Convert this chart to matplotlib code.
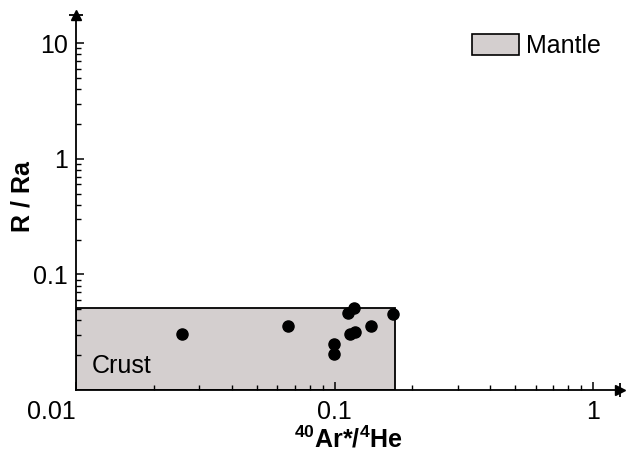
import numpy as np
import matplotlib.pyplot as plt
from matplotlib.patches import Rectangle, Patch

plt.rcParams['font.family'] = ['Liberation Sans', 'DejaVu Sans']
plt.rcParams['mathtext.fontset'] = 'custom'
plt.rcParams['mathtext.rm'] = 'Liberation Sans'
plt.rcParams['mathtext.bf'] = 'Liberation Sans:bold'

# sample data
ar_he = [0.0258, 0.0661, 0.0991, 0.0991, 0.1126, 0.1188, 0.1143, 0.1199, 0.1388, 0.1683]
r_ra = [0.0307, 0.0355, 0.0248, 0.0206, 0.0466, 0.0514, 0.0303, 0.0318, 0.0357, 0.0457]

# crust field box
crust_x = [0.01, 0.171]
crust_y = [0.01, 0.0514]

box_color = '#d4cfcf'
fs = 18

fig = plt.figure(figsize=(6.26, 4.55), dpi=100)
ax = fig.add_axes([76 / 626, 1 - 390 / 455, (620 - 76) / 626, (390 - 15) / 455])
ax.set_xscale('log')
ax.set_yscale('log')
ax.set_xlim(0.01, 1.27)
ax.set_ylim(0.01, 17.5)

ax.add_patch(Rectangle((crust_x[0], crust_y[0]), crust_x[1] - crust_x[0], crust_y[1] - crust_y[0],
                       facecolor=box_color, edgecolor='black', linewidth=1.3, zorder=1))
ax.text(0.029, 0.045, 'Crust', fontsize=fs, va='baseline', ha='left',
        transform=ax.transAxes, zorder=2)

ax.plot(ar_he, r_ra, 'o', color='black', markersize=8, zorder=3)

# axes style: only left/bottom with arrow heads
for s in ['top', 'right']:
    ax.spines[s].set_visible(False)
for s in ['left', 'bottom']:
    ax.spines[s].set_linewidth(1.3)
ax.plot(1, 0, marker='>', color='black', markersize=7, transform=ax.transAxes, clip_on=False)
ax.plot(1, 0, marker='|', color='black', markersize=10, mew=1.3, transform=ax.transAxes, clip_on=False)
ax.plot(0, 1, marker='^', color='black', markersize=7, transform=ax.transAxes, clip_on=False)
ax.plot(0, 1, marker='_', color='black', markersize=10, mew=1.3, transform=ax.transAxes, clip_on=False)

ax.tick_params(which='major', direction='in', length=6, width=1.1, labelsize=fs)
ax.tick_params(axis='x', which='major', pad=7)
ax.tick_params(axis='y', which='major', pad=6)
ax.tick_params(which='minor', direction='in', length=3.5, width=1.0)
ax.set_xticks([0.01, 0.1, 1])
ax.set_xticklabels(['0.01', '0.1', '1'])
ax.get_xticklabels()[0].set_ha('right')
ax.set_yticks([0.1, 1, 10])
ax.set_yticklabels(['0.1', '1', '10'])

ax.set_xlabel(r'$\mathbf{^{40}}$Ar*/$\mathbf{^{4}}$He', fontsize=fs, fontweight='bold')
ax.xaxis.set_label_coords(0.5, -0.095)
ax.set_ylabel('R / Ra', fontsize=fs, fontweight='bold')
ax.yaxis.set_label_coords(-0.077, 0.515)

handle = Patch(facecolor=box_color, edgecolor='black', linewidth=1.2)
fig.legend([handle], ['Mantle'], loc='upper left', frameon=False, fontsize=fs,
           handlelength=1.88, handleheight=0.88, handletextpad=0.3,
           borderpad=0, borderaxespad=0, bbox_to_anchor=(472 / 626, 1 - 34 / 455))

fig.savefig('out.png', dpi=100)
